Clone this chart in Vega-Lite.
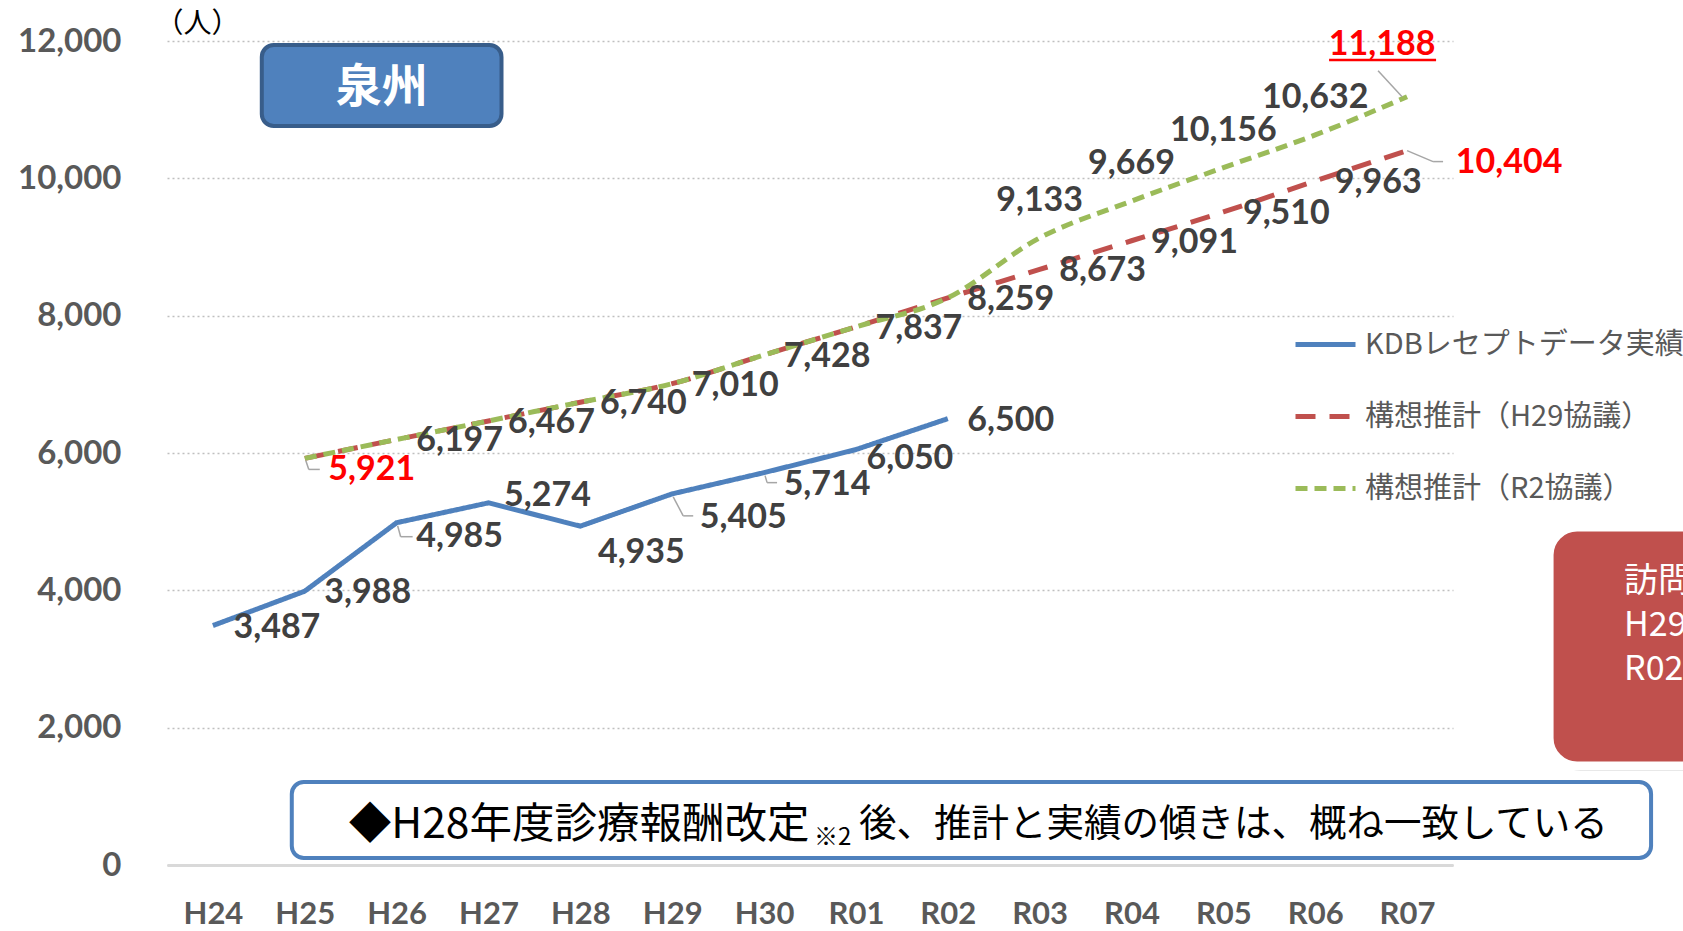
{
  "$schema": "https://vega.github.io/schema/vega-lite/v6.json",
  "width": 1286,
  "height": 824,
  "autosize": "none",
  "padding": {"left": 167, "top": 41, "right": 230, "bottom": 66},
  "background": "white",
  "config": {"view": {"stroke": null}},
  "data": {"values": [
      {"year": "H24", "series": "KDBレセプトデータ実績", "value": 3487},
      {"year": "H25", "series": "KDBレセプトデータ実績", "value": 3988},
      {"year": "H26", "series": "KDBレセプトデータ実績", "value": 4985},
      {"year": "H27", "series": "KDBレセプトデータ実績", "value": 5274},
      {"year": "H28", "series": "KDBレセプトデータ実績", "value": 4935},
      {"year": "H29", "series": "KDBレセプトデータ実績", "value": 5405},
      {"year": "H30", "series": "KDBレセプトデータ実績", "value": 5714},
      {"year": "R01", "series": "KDBレセプトデータ実績", "value": 6050},
      {"year": "R02", "series": "KDBレセプトデータ実績", "value": 6500},
      {"year": "H25", "series": "構想推計（H29協議）", "value": 5921},
      {"year": "H26", "series": "構想推計（H29協議）", "value": 6197},
      {"year": "H27", "series": "構想推計（H29協議）", "value": 6467},
      {"year": "H28", "series": "構想推計（H29協議）", "value": 6740},
      {"year": "H29", "series": "構想推計（H29協議）", "value": 7010},
      {"year": "H30", "series": "構想推計（H29協議）", "value": 7428},
      {"year": "R01", "series": "構想推計（H29協議）", "value": 7837},
      {"year": "R02", "series": "構想推計（H29協議）", "value": 8259},
      {"year": "R03", "series": "構想推計（H29協議）", "value": 8673},
      {"year": "R04", "series": "構想推計（H29協議）", "value": 9091},
      {"year": "R05", "series": "構想推計（H29協議）", "value": 9510},
      {"year": "R06", "series": "構想推計（H29協議）", "value": 9963},
      {"year": "R07", "series": "構想推計（H29協議）", "value": 10404},
      {"year": "H25", "series": "構想推計（R2協議）", "value": 5921},
      {"year": "H26", "series": "構想推計（R2協議）", "value": 6197},
      {"year": "H27", "series": "構想推計（R2協議）", "value": 6467},
      {"year": "H28", "series": "構想推計（R2協議）", "value": 6740},
      {"year": "H29", "series": "構想推計（R2協議）", "value": 7010},
      {"year": "H30", "series": "構想推計（R2協議）", "value": 7428},
      {"year": "R01", "series": "構想推計（R2協議）", "value": 7837},
      {"year": "R02", "series": "構想推計（R2協議）", "value": 8259},
      {"year": "R03", "series": "構想推計（R2協議）", "value": 9133},
      {"year": "R04", "series": "構想推計（R2協議）", "value": 9669},
      {"year": "R05", "series": "構想推計（R2協議）", "value": 10156},
      {"year": "R06", "series": "構想推計（R2協議）", "value": 10632},
      {"year": "R07", "series": "構想推計（R2協議）", "value": 11188}
  ]},
  "encoding": {
    "x": {
      "field": "year", "type": "ordinal",
      "scale": {"type": "point", "padding": 0.5, "domain": ["H24","H25","H26","H27","H28","H29","H30","R01","R02","R03","R04","R05","R06","R07"]},
      "axis": {"title": null, "labelAngle": 0, "ticks": false, "tickSize": 0, "labelPadding": 34, "labelFont": "Lato", "labelFontWeight": "bold", "labelFontSize": 31, "labelColor": "#595959", "domainColor": "#D9D9D9", "domainWidth": 3, "grid": false}
    },
    "y": {
      "field": "value", "type": "quantitative",
      "scale": {"domain": [0, 12000], "nice": false},
      "axis": {"values": [0,2000,4000,6000,8000,10000,12000], "labelExpr": "format(datum.value, ',')", "domain": false, "ticks": false, "tickSize": 0, "labelPadding": 46, "labelFont": "Lato", "labelFontWeight": "bold", "labelFontSize": 33, "labelColor": "#595959", "grid": true, "gridColor": "#BFBFBF", "gridDash": [2, 3], "gridWidth": 1.5, "title": "（人）", "titleAngle": 0, "titleAlign": "left", "titleBaseline": "middle", "titleX": -12, "titleY": -17, "titleFont": "Noto Sans CJK JP", "titleFontSize": 28, "titleFontWeight": "normal", "titleColor": "#000000"}
    }
  },
  "layer": [
    {
      "transform": [{"filter": "datum.series === 'KDBレセプトデータ実績'"}],
      "mark": {"type": "line", "strokeWidth": 5, "interpolate": "linear"},
      "encoding": {
        "color": {"field": "series", "type": "nominal", "scale": {"domain": ["KDBレセプトデータ実績", "構想推計（H29協議）", "構想推計（R2協議）"], "range": ["#4F81BD", "#C0504D", "#9BBB59"]},
          "legend": {"title": null, "orient": "none", "legendX": 1126, "legendY": 271, "labelFont": "Noto Sans CJK JP", "labelFontSize": 29, "labelColor": "#595959", "labelLimit": 0, "symbolType": "stroke", "symbolSize": 3600, "symbolStrokeWidth": 5, "rowPadding": 24, "labelOffset": 7, "padding": 0}},
        "strokeDash": {"field": "series", "type": "nominal", "scale": {"domain": ["KDBレセプトデータ実績", "構想推計（H29協議）", "構想推計（R2協議）"], "range": [[1, 0], [20, 14], [12, 7]]}}
      }
    },
    {
      "transform": [{"filter": "datum.series === '構想推計（H29協議）'"}],
      "mark": {"type": "line", "strokeWidth": 5, "interpolate": "monotone"},
      "encoding": {
        "color": {"field": "series", "type": "nominal"},
        "strokeDash": {"field": "series", "type": "nominal"}
      }
    },
    {
      "transform": [{"filter": "datum.series === '構想推計（R2協議）'"}],
      "mark": {"type": "line", "strokeWidth": 5, "interpolate": "monotone"},
      "encoding": {
        "color": {"field": "series", "type": "nominal"},
        "strokeDash": {"field": "series", "type": "nominal"}
      }
    },
    {
      "transform": [{"filter": "datum.series === 'KDBレセプトデータ実績'"}],
      "mark": {"type": "text", "align": "center", "baseline": "middle", "font": "Lato", "fontWeight": "bold", "fontSize": 34, "color": "#404040",
        "dx": {"expr": "({'H24':64,'H25':63,'H26':63,'H27':59,'H28':61,'H29':71,'H30':63,'R01':54,'R02':63})[datum.year]"},
        "dy": {"expr": "({'H24':2,'H25':2,'H26':14,'H27':-7,'H28':27,'H29':24,'H30':12,'R01':9,'R02':2})[datum.year]"}},
      "encoding": {"text": {"field": "value", "type": "quantitative", "format": ","}}
    },
    {
      "transform": [{"filter": "datum.series === '構想推計（H29協議）' && datum.year !== 'H25' && datum.year !== 'R07'"}],
      "mark": {"type": "text", "align": "center", "baseline": "middle", "font": "Lato", "fontWeight": "bold", "fontSize": 34, "color": "#404040", "dx": 63, "dy": 2},
      "encoding": {"text": {"field": "value", "type": "quantitative", "format": ","}}
    },
    {
      "transform": [{"filter": "datum.series === '構想推計（R2協議）' && indexof(['R03','R04','R05','R06'], datum.year) >= 0"}],
      "mark": {"type": "text", "align": "center", "baseline": "middle", "font": "Lato", "fontWeight": "bold", "fontSize": 34, "color": "#404040", "dx": 0, "dy": -37},
      "encoding": {"text": {"field": "value", "type": "quantitative", "format": ","}}
    },
    {
      "transform": [{"filter": "(datum.series === '構想推計（H29協議）' && (datum.year === 'H25' || datum.year === 'R07')) || (datum.series === '構想推計（R2協議）' && datum.year === 'R07')"}],
      "mark": {"type": "text", "align": "center", "baseline": "middle", "font": "Lato", "fontWeight": "bold", "fontSize": 34, "color": "#FF0000",
        "dx": {"expr": "datum.year === 'H25' ? 67 : (datum.value > 11000 ? -25 : 102)"},
        "dy": {"expr": "datum.year === 'H25' ? 12 : (datum.value > 11000 ? -52 : 12)"}},
      "encoding": {"text": {"field": "value", "type": "quantitative", "format": ","}}
    },
    {
      "transform": [{"filter": "datum.year === 'H24'"}],
      "mark": {"type": "rule", "color": "#FF0000", "strokeWidth": 2.5, "xOffset": -78, "x2Offset": 29},
      "encoding": {"x": {"datum": "R07"}, "x2": {"datum": "R07"}, "y": {"datum": 11723}}
    },
    {
      "transform": [{"filter": "datum.year === 'H24'"}],
      "mark": {"type": "rule", "color": "#A6A6A6", "strokeWidth": 1.5, "xOffset": -5, "x2Offset": -29, "y2Offset": -26},
      "encoding": {"x": {"datum": "R07"}, "x2": {"datum": "R07"}, "y": {"datum": 11188}, "y2": {"datum": 11188}}
    },
    {
      "transform": [{"filter": "datum.year === 'H24'"}],
      "mark": {"type": "rule", "color": "#A6A6A6", "strokeWidth": 1.5, "xOffset": 0, "x2Offset": 26, "y2Offset": 11},
      "encoding": {"x": {"datum": "R07"}, "x2": {"datum": "R07"}, "y": {"datum": 10404}, "y2": {"datum": 10404}}
    },
    {
      "transform": [{"filter": "datum.year === 'H24'"}],
      "mark": {"type": "rule", "color": "#A6A6A6", "strokeWidth": 1.5, "xOffset": 26, "x2Offset": 36, "yOffset": 11, "y2Offset": 11},
      "encoding": {"x": {"datum": "R07"}, "x2": {"datum": "R07"}, "y": {"datum": 10404}, "y2": {"datum": 10404}}
    },
    {
      "transform": [{"filter": "datum.year === 'H24'"}],
      "mark": {"type": "rule", "color": "#A6A6A6", "strokeWidth": 1.5, "xOffset": 1, "x2Offset": 4, "yOffset": 2, "y2Offset": 11},
      "encoding": {"x": {"datum": "H25"}, "x2": {"datum": "H25"}, "y": {"datum": 5921}, "y2": {"datum": 5921}}
    },
    {
      "transform": [{"filter": "datum.year === 'H24'"}],
      "mark": {"type": "rule", "color": "#A6A6A6", "strokeWidth": 1.5, "xOffset": 4, "x2Offset": 15, "yOffset": 11, "y2Offset": 11},
      "encoding": {"x": {"datum": "H25"}, "x2": {"datum": "H25"}, "y": {"datum": 5921}, "y2": {"datum": 5921}}
    },
    {
      "transform": [{"filter": "datum.year === 'H24'"}],
      "mark": {"type": "rule", "color": "#A6A6A6", "strokeWidth": 1.5, "xOffset": 1, "x2Offset": 4, "yOffset": 3, "y2Offset": 14},
      "encoding": {"x": {"datum": "H26"}, "x2": {"datum": "H26"}, "y": {"datum": 4985}, "y2": {"datum": 4985}}
    },
    {
      "transform": [{"filter": "datum.year === 'H24'"}],
      "mark": {"type": "rule", "color": "#A6A6A6", "strokeWidth": 1.5, "xOffset": 4, "x2Offset": 16, "yOffset": 14, "y2Offset": 14},
      "encoding": {"x": {"datum": "H26"}, "x2": {"datum": "H26"}, "y": {"datum": 4985}, "y2": {"datum": 4985}}
    },
    {
      "transform": [{"filter": "datum.year === 'H24'"}],
      "mark": {"type": "rule", "color": "#A6A6A6", "strokeWidth": 1.5, "xOffset": 1, "x2Offset": 11, "yOffset": 3, "y2Offset": 22},
      "encoding": {"x": {"datum": "H29"}, "x2": {"datum": "H29"}, "y": {"datum": 5405}, "y2": {"datum": 5405}}
    },
    {
      "transform": [{"filter": "datum.year === 'H24'"}],
      "mark": {"type": "rule", "color": "#A6A6A6", "strokeWidth": 1.5, "xOffset": 11, "x2Offset": 21, "yOffset": 22, "y2Offset": 22},
      "encoding": {"x": {"datum": "H29"}, "x2": {"datum": "H29"}, "y": {"datum": 5405}, "y2": {"datum": 5405}}
    },
    {
      "transform": [{"filter": "datum.year === 'H24'"}],
      "mark": {"type": "rule", "color": "#A6A6A6", "strokeWidth": 1.5, "xOffset": 1, "x2Offset": 3, "yOffset": 3, "y2Offset": 10},
      "encoding": {"x": {"datum": "H30"}, "x2": {"datum": "H30"}, "y": {"datum": 5714}, "y2": {"datum": 5714}}
    },
    {
      "transform": [{"filter": "datum.year === 'H24'"}],
      "mark": {"type": "rule", "color": "#A6A6A6", "strokeWidth": 1.5, "xOffset": 3, "x2Offset": 13, "yOffset": 10, "y2Offset": 10},
      "encoding": {"x": {"datum": "H30"}, "x2": {"datum": "H30"}, "y": {"datum": 5714}, "y2": {"datum": 5714}}
    },
    {
      "transform": [{"filter": "datum.year === 'H24'"}],
      "mark": {"type": "rect", "fill": "#4F81BD", "stroke": "#385D8A", "strokeWidth": 4, "cornerRadius": 12, "xOffset": -43, "x2Offset": 13},
      "encoding": {"x": {"datum": "H25"}, "x2": {"datum": "H27"}, "y": {"datum": 11942}, "y2": {"datum": 10762}}
    },
    {
      "transform": [{"filter": "datum.year === 'H24'"}],
      "mark": {"type": "text", "align": "center", "baseline": "middle", "font": "Noto Sans CJK JP", "fontWeight": "bold", "fontSize": 46, "color": "#FFFFFF", "dx": -15},
      "encoding": {"x": {"datum": "H26"}, "y": {"datum": 11316}, "text": {"value": "泉州"}}
    },
    {
      "transform": [{"filter": "datum.year === 'H24'"}],
      "mark": {"type": "rect", "fill": "#FFFFFF", "stroke": "#4F81BD", "strokeWidth": 4, "cornerRadius": 12, "xOffset": -13, "x2Offset": 244},
      "encoding": {"x": {"datum": "H25"}, "x2": {"datum": "R07"}, "y": {"datum": 1209}, "y2": {"datum": 102}}
    },
    {
      "transform": [{"filter": "datum.year === 'H24'"}],
      "mark": {"type": "text", "align": "left", "baseline": "middle", "font": "Noto Sans CJK JP", "fontSize": 42.5, "color": "#000000", "dx": 44},
      "encoding": {"x": {"datum": "H25"}, "y": {"datum": 580}, "text": {"value": "◆H28年度診療報酬改定"}}
    },
    {
      "transform": [{"filter": "datum.year === 'H24'"}],
      "mark": {"type": "text", "align": "left", "baseline": "middle", "font": "Noto Sans CJK JP", "fontSize": 24, "color": "#000000", "dx": 50},
      "encoding": {"x": {"datum": "H30"}, "y": {"datum": 390}, "text": {"value": "※2"}}
    },
    {
      "transform": [{"filter": "datum.year === 'H24'"}],
      "mark": {"type": "text", "align": "left", "baseline": "middle", "font": "Noto Sans CJK JP", "fontSize": 37.5, "color": "#000000", "dx": 3},
      "encoding": {"x": {"datum": "R01"}, "y": {"datum": 580}, "text": {"value": "後、推計と実績の傾きは、概ね一致している"}}
    },
    {
      "transform": [{"filter": "datum.year === 'H24'"}],
      "mark": {"type": "rect", "fill": "#D0D0D0", "cornerRadius": 28, "xOffset": 146, "x2Offset": 400, "yOffset": 6, "y2Offset": 7},
      "encoding": {"x": {"datum": "R07"}, "x2": {"datum": "R07"}, "y": {"datum": 4893}, "y2": {"datum": 1471}}
    },
    {
      "transform": [{"filter": "datum.year === 'H24'"}],
      "mark": {"type": "rect", "fill": "#C0504D", "stroke": "#FFFFFF", "strokeWidth": 9, "cornerRadius": 28, "xOffset": 142, "x2Offset": 400, "yOffset": -2, "y2Offset": 2},
      "encoding": {"x": {"datum": "R07"}, "x2": {"datum": "R07"}, "y": {"datum": 4893}, "y2": {"datum": 1471}}
    },
    {
      "transform": [{"filter": "datum.year === 'H24'"}],
      "mark": {"type": "text", "align": "left", "baseline": "middle", "font": "Noto Sans CJK JP", "fontSize": 34, "color": "#FFFFFF", "dx": 217, "lineHeight": 44},
      "encoding": {"x": {"datum": "R07"}, "y": {"datum": 4121}, "text": {"value": ["訪問診療", "H29", "R02"]}}
    }
  ]
}
